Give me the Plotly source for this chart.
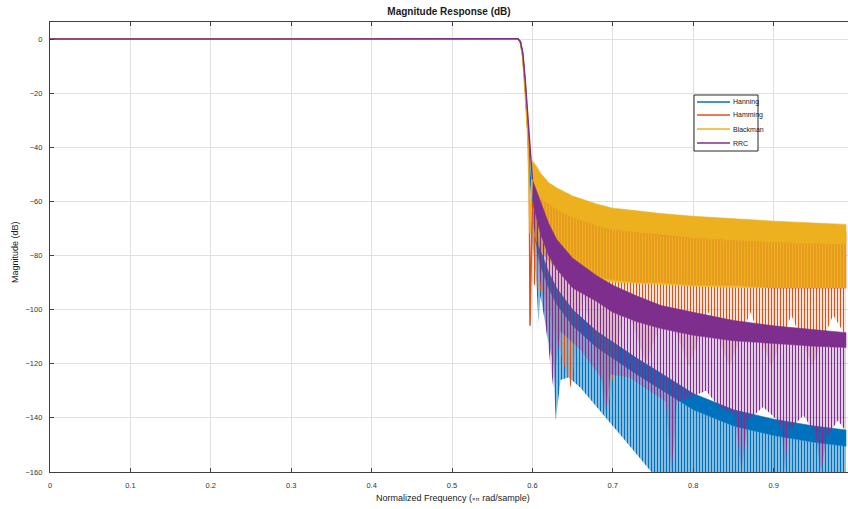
import plotly.graph_objects as go

# ---------------- data (normalized frequency x pi rad/sample, magnitude dB) -------------
names = ["Hanning", "Hamming", "Blackman", "RRC"]
colors = ["#0072BD", "#D95319", "#EDB120", "#7E2F8E"]

# passband + transition edge
f_trans = [0.0, 0.57, 0.578, 0.582, 0.585, 0.588, 0.591, 0.594, 0.596, 0.597, 0.6]
hann_trans = [0, 0, 0.1, 0.1, -1, -6, -17, -31, -42, -50, -62]
hamm_trans = [0, 0, 0.1, 0.1, -1, -6, -17, -31, -45, -106, -60]
black_trans = [0, 0, 0.1, 0.1, -1, -7, -20, -35, -55, -72, -45]
rrc_trans = [0, 0, 0.15, 0.1, -1, -5, -15, -28, -37, -42, -52]

# stopband envelopes: peak level and bottom of the dense ripple band
f_env = [0.6, 0.605, 0.61, 0.62, 0.63, 0.65, 0.68, 0.7, 0.73, 0.76, 0.8, 0.85, 0.9, 0.95, 0.99]

hann_top = [-62, -70, -78, -86, -92, -100, -108, -112, -118, -123.5, -131, -137, -140.5, -143, -144.5]
hann_dense = [-68, -76, -84, -92, -98, -106, -114, -118, -124, -129.5, -137, -143, -146.5, -149, -150.5]
hamm_top = [-55, -55, -56, -58, -60, -62, -64, -65, -66, -67, -68, -69, -70, -70.5, -71]
hamm_dense = [-66, -68, -71, -76, -80, -85, -88, -89, -90, -90, -91, -91, -92, -92, -92]
black_top = [-45, -47, -49.5, -53, -55, -58, -61, -62.5, -63.5, -64.5, -65.5, -66.5, -67.3, -68, -68.5]
black_dense = [-58, -58, -59, -61, -63, -66, -69, -70.5, -71.5, -72.5, -73.5, -74.5, -75, -75.5, -76]
rrc_top = [-52, -56, -60, -68, -74, -81, -87.5, -91, -95, -98.5, -101, -104, -106, -107.5, -108.5]
rrc_dense = [-60, -66, -72, -80, -85, -92, -97, -101, -104.5, -107, -109.5, -111.5, -112.5, -113.5, -114]

# stopband null floors (deepest ripple troughs)
hann_floor_f = [0.6, 0.605, 0.6075, 0.61, 0.62, 0.626, 0.629, 0.635, 0.645, 0.66, 0.68, 0.70, 0.72, 0.748, 0.99]
hann_floor = [-75, -90, -105, -95, -112, -120, -141, -126, -125, -129, -136, -143, -150, -160, -170]

hamm_floor_f = [0.6, 0.615, 0.637, 0.648, 0.663, 0.694, 0.715, 0.741, 0.767, 0.795, 0.819, 0.845,
                0.871, 0.897, 0.922, 0.948, 0.974, 0.99]
hamm_floor = [-90, -95, -118, -129, -94, -136, -97, -120, -99, -121, -101, -121,
              -101, -121, -102, -121, -102, -110]

black_floor_f = f_env
black_floor = [-70, -75, -78, -82, -85, -87, -89, -90, -90.5, -91, -91.5, -92, -92, -92, -92]

rrc_floor_f = [0.6, 0.61, 0.626, 0.635, 0.66, 0.685, 0.691, 0.697, 0.72, 0.745, 0.766, 0.773,
               0.780, 0.80, 0.816, 0.832, 0.852, 0.860, 0.868, 0.887, 0.905, 0.910, 0.914,
               0.918, 0.937, 0.952, 0.959, 0.966, 0.98, 0.99]
rrc_floor = [-65, -90, -129, -108, -115, -125, -138, -124, -125, -130, -134, -160,
             -134, -132, -130, -136, -139, -160, -141, -136, -141, -144, -160,
             -145, -139, -146, -160, -147, -141, -145]

x_ticks = [0, 0.1, 0.2, 0.3, 0.4, 0.5, 0.6, 0.7, 0.8, 0.9]
x_tick_text = ["0", "0.1", "0.2", "0.3", "0.4", "0.5", "0.6", "0.7", "0.8", "0.9"]
y_ticks = [0, -20, -40, -60, -80, -100, -120, -140, -160]

# stroke density of the sparse part of each ripple band
stroke_density = [0.65, 0.45, 0.85, 0.5]

series = [
    (hann_trans, hann_top, hann_dense, hann_floor_f, hann_floor),
    (hamm_trans, hamm_top, hamm_dense, hamm_floor_f, hamm_floor),
    (black_trans, black_top, black_dense, black_floor_f, black_floor),
    (rrc_trans, rrc_top, rrc_dense, rrc_floor_f, rrc_floor),
]

fig = go.Figure()


def polygon(fx_a, y_a, fx_b, y_b):
    xs = list(fx_a) + list(fx_b)[::-1]
    ys = list(y_a) + list(y_b)[::-1]
    return xs, ys


for (trans, top, dense, ff, floor), col, dens in zip(series, colors, stroke_density):
    # sparse ripple strokes between dense band and null floor
    xs, ys = polygon(f_env, dense, ff, floor)
    fig.add_trace(go.Scatter(
        x=xs, y=ys, mode="lines", fill="toself", line=dict(width=0),
        fillcolor="rgba(0,0,0,0)",
        fillpattern=dict(shape="|", fgcolor=col, bgcolor="rgba(0,0,0,0)",
                         size=3, solidity=dens, fillmode="replace"),
        hoverinfo="skip", showlegend=False))
    # dense ripple band
    xs, ys = polygon(f_env, top, f_env, dense)
    fig.add_trace(go.Scatter(
        x=xs, y=ys, mode="lines", fill="toself", line=dict(width=0.6, color=col),
        fillcolor=col, hoverinfo="skip", showlegend=False))

for (trans, *_), col, name in zip(series, colors, names):
    fig.add_trace(go.Scatter(x=f_trans, y=trans, mode="lines", name=name,
                             line=dict(color=col, width=1.5), showlegend=False))

# ---------------- layout -------------
L, R, T, B = 50, 0, 22, 37
W, H = 848, 509
pw, ph = W - L - R, H - T - B


def px(xp):
    return (xp - L) / pw


def py(yp):
    return (H - B - yp) / ph


font = "Liberation Sans, Arial, Helvetica, sans-serif"
axis_col = "#404040"

fig.update_layout(
    width=W, height=H, margin=dict(l=L, r=R, t=T, b=B),
    paper_bgcolor="white", plot_bgcolor="white",
    font=dict(family=font, size=8, color="#262626"),
    showlegend=False,
    title=dict(text="<b>Magnitude Response (dB)</b>", x=0.5, xref="paper",
               y=1 - 11 / H, yanchor="middle", xanchor="center",
               font=dict(size=10, color="#1a1a1a")),
)
fig.update_xaxes(range=[0, 0.9925], tickvals=x_ticks, ticktext=x_tick_text,
                 showgrid=True, gridcolor="#e0e0e0", gridwidth=1, zeroline=False,
                 showline=True, linecolor=axis_col, linewidth=1.2, mirror="ticks",
                 ticks="inside", ticklen=4, tickcolor=axis_col,
                 tickfont=dict(size=7.5, color="#333"), ticklabelstandoff=6)
fig.update_yaxes(range=[-160, 6.28], tickvals=y_ticks,
                 showgrid=True, gridcolor="#e0e0e0", gridwidth=1, zeroline=False,
                 showline=True, linecolor=axis_col, linewidth=1.2, mirror=False,
                 ticks="inside", ticklen=4, tickcolor=axis_col,
                 tickfont=dict(size=7.5, color="#333"), ticklabelstandoff=5)

annotations = [
    dict(text="Normalized Frequency (<span style='font-size:6px'>×π</span> rad/sample)",
         x=px(453), y=py(498), xref="paper", yref="paper", showarrow=False,
         xanchor="center", yanchor="middle", font=dict(size=9, color="#1a1a1a")),
    dict(text="Magnitude (dB)", x=px(15), y=py(252), xref="paper", yref="paper",
         showarrow=False, textangle=-90, xanchor="center", yanchor="middle",
         font=dict(size=9, color="#1a1a1a")),
]

# legend box drawn in pixel positions
shapes = [dict(type="rect", xref="paper", yref="paper", x0=px(694), x1=px(758),
               y0=py(151), y1=py(95), line=dict(color="#262626", width=1),
               fillcolor="white", layer="above")]
leg_y = [102, 115, 129, 143]
for name, col, yy in zip(names, colors, leg_y):
    shapes.append(dict(type="line", xref="paper", yref="paper", x0=px(697), x1=px(730),
                       y0=py(yy), y1=py(yy), line=dict(color=col, width=1.5), layer="above"))
    annotations.append(dict(text=name, x=px(731), y=py(yy), xref="paper", yref="paper",
                            showarrow=False, xanchor="left", yanchor="middle",
                            font=dict(size=7, color="#1a1a1a")))

fig.update_layout(shapes=shapes, annotations=annotations)
fig.write_html("out.html")
